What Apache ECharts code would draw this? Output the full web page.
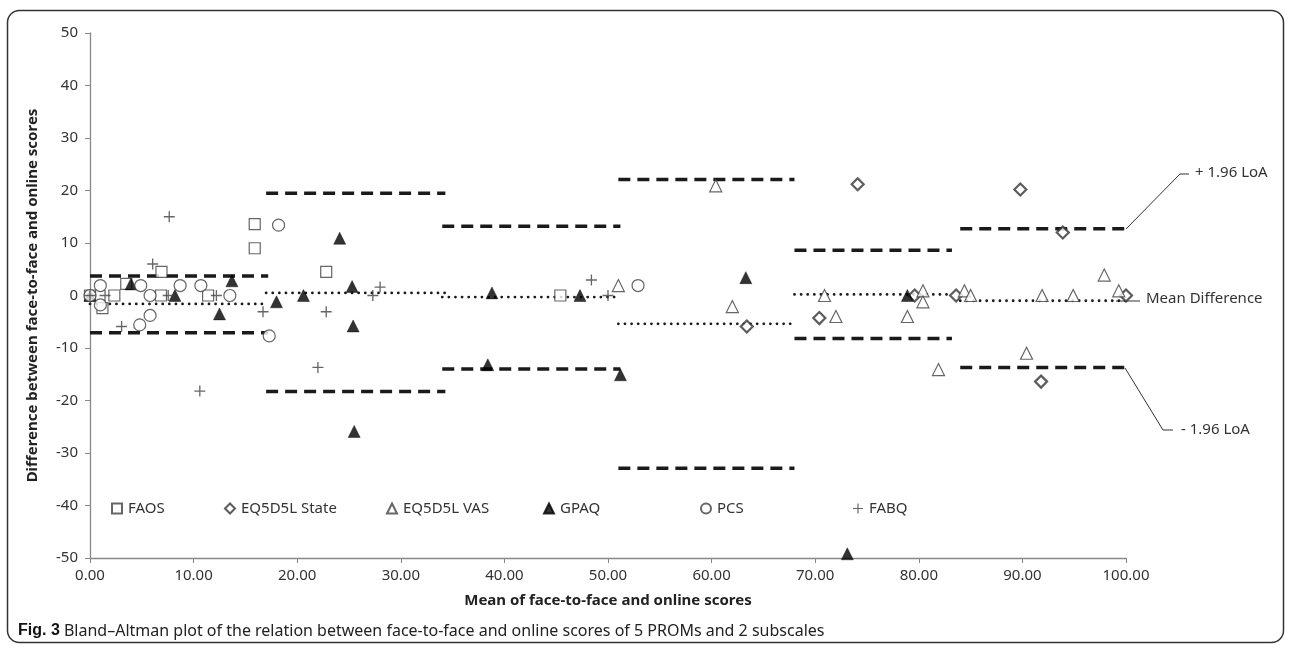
<!DOCTYPE html>
<html>
<head>
<meta charset="utf-8">
<script src="https://cdn.jsdelivr.net/npm/echarts@6/dist/echarts.min.js"></script>
<style>
  html, body { margin: 0; padding: 0; background: #fff; }
  #chart { width: 1292px; height: 651px; }
</style>
</head>
<body>
<div id="chart"></div>
<script>
// points [mean, difference] per instrument
var faos = [[0, 0], [1.2, -2.4], [2.35, 0], [3.5, 2.2], [6.9, 4.5], [6.85, 0], [11.4, 0], [15.9, 13.6], [15.9, 9.0], [22.8, 4.5], [45.4, 0]];
var eqState = [[63.4, -5.9], [70.4, -4.3], [74.1, 21.2], [79.6, 0], [83.6, 0], [89.8, 20.2], [93.9, 12.0], [91.8, -16.4], [100, 0]];
var eqVas = [[51.0, 1.9], [60.4, 20.9], [62.0, -2.1], [70.9, 0], [72.0, -4.0], [78.9, -4.0], [80.4, 0.9], [80.4, -1.2], [81.9, -14.1], [84.4, 0.9], [85.0, 0], [90.4, -11.0], [91.9, 0], [94.9, 0], [97.9, 3.9], [99.3, 0.9]];
var gpaq = [[0, 0], [3.96, 2.2], [8.2, 0], [12.5, -3.5], [13.7, 2.8], [18.0, -1.2], [20.6, 0], [24.1, 10.9], [25.3, 1.7], [25.4, -5.8], [25.5, -25.9], [38.4, -13.2], [38.8, 0.5], [47.3, 0], [51.2, -15.1], [63.3, 3.4], [73.1, -49.2], [78.9, 0]];
var pcs = [[0, 0], [1.0, 1.9], [1.0, -1.8], [4.9, 1.9], [4.8, -5.6], [5.8, 0], [5.8, -3.8], [8.7, 1.9], [10.7, 1.9], [13.5, 0], [17.3, -7.7], [18.2, 13.4], [52.9, 1.9]];
var fabq = [[0, 0], [1.45, 0], [3.05, -5.9], [6.05, 6.0], [7.65, 15.0], [7.55, 0], [10.6, -18.2], [12.2, 0], [16.7, -3.1], [22.0, -13.7], [22.8, -3.1], [27.3, 0], [28.0, 1.6], [48.4, 2.95], [50.0, 0]];

// limits of agreement per instrument block
var segStart = [0, 17, 34, 51, 68, 84];
var segEnd = [17.2, 34.3, 51.2, 68, 83.2, 100];
var upperLoA = [3.7, 19.5, 13.2, 22.1, 8.6, 12.7];
var meanDiff = [-1.6, 0.5, -0.3, -5.4, 0.2, -1.0];
var lowerLoA = [-7.1, -18.3, -14.0, -32.9, -8.2, -13.7];

var FONT = "'Noto Sans', 'Open Sans', sans-serif";
var plusPath = "path://M4.4,0H5.6V4.4H10V5.6H5.6V10H4.4V5.6H0V4.4H4.4Z";

var myChart = echarts.init(document.getElementById("chart"));

var series = [];
function addLine(vals, dashed) {
  for (var i = 0; i < vals.length; i++) {
    series.push({
      type: "line",
      silent: true,
      symbol: "none",
      z: 1,
      lineStyle: dashed
        ? { color: "#1a1a1a", width: 3.5, type: [12, 7] }
        : { color: "#1a1a1a", width: 2.8, type: [0.01, 6.6], cap: "round" },
      data: [[segStart[i], vals[i]], [segEnd[i], vals[i]]]
    });
  }
}
addLine(upperLoA, true);
addLine(lowerLoA, true);
addLine(meanDiff, false);

function scatter(name, data, symbol, size, style) {
  series.push({
    name: name,
    type: "scatter",
    symbol: symbol,
    symbolSize: size,
    z: 3,
    itemStyle: style,
    data: data
  });
}
scatter("FAOS", faos, "rect", 11, { color: "#fff", borderColor: "#404040", borderWidth: 1.2 });
scatter("EQ5D5L State", eqState, "diamond", 12, { color: "#fff", borderColor: "#333", borderWidth: 2.2 });
scatter("EQ5D5L VAS", eqVas, "triangle", 12, { color: "#fff", borderColor: "#404040", borderWidth: 1.2 });
scatter("GPAQ", gpaq, "triangle", 12, { color: "#000", borderColor: "#000", borderWidth: 0.5 });
scatter("PCS", pcs, "circle", 12, { color: "#fff", borderColor: "#404040", borderWidth: 1.2 });
scatter("FABQ", fabq, plusPath, 11, { color: "#404040" });

var legendNames = ["FAOS", "EQ5D5L State", "EQ5D5L VAS", "GPAQ", "PCS", "FABQ"];
var legendLeft = [106, 219, 381, 538, 695, 848];
var legends = legendNames.map(function (n, i) {
  return {
    data: [n],
    left: legendLeft[i],
    top: 496,
    itemWidth: 10,
    itemHeight: 10,
    itemGap: 0,
    selectedMode: false,
    textStyle: { fontFamily: FONT, fontSize: 15, color: "#333", padding: [0, 0, 0, 1] }
  };
});

var txt = { fontFamily: FONT, fontSize: 15, fill: "#333" };

var Option = {
  backgroundColor: "#fff",
  animation: false,
  grid: { left: 90, right: 166, top: 33, bottom: 93 },
  legend: legends,
  xAxis: {
    type: "value",
    min: 0,
    max: 100,
    interval: 10,
    name: "Mean of face-to-face and online scores",
    nameLocation: "middle",
    nameGap: 35,
    nameTextStyle: { fontFamily: FONT, fontSize: 15, fontWeight: "bold", color: "#222" },
    axisLine: { onZero: false, lineStyle: { color: "#888", width: 1.3 } },
    axisTick: { length: 5, lineStyle: { color: "#888" } },
    axisLabel: {
      margin: 10,
      fontFamily: FONT,
      fontSize: 15,
      color: "#333",
      formatter: function (v) { return v.toFixed(2); }
    },
    splitLine: { show: false }
  },
  yAxis: {
    type: "value",
    min: -50,
    max: 50,
    interval: 10,
    name: "Difference between face-to-face and online scores",
    nameLocation: "middle",
    nameGap: 50,
    nameTextStyle: { fontFamily: FONT, fontSize: 15, fontWeight: "bold", color: "#222" },
    axisLine: { show: true, lineStyle: { color: "#888", width: 1.3 } },
    axisTick: { show: true, length: 5, lineStyle: { color: "#888" } },
    axisLabel: { margin: 12, fontFamily: FONT, fontSize: 15, color: "#333" },
    splitLine: { show: false }
  },
  series: series,
  graphic: [
    {
      type: "rect", silent: true, z: 0,
      shape: { x: 7.5, y: 10.5, width: 1276, height: 632, r: 12 },
      style: { fill: "none", stroke: "#333", lineWidth: 1.5 }
    },
    // LoA annotations
    { type: "polyline", silent: true, shape: { points: [[1126, 229], [1180, 174], [1189, 174]] }, style: { stroke: "#333", lineWidth: 1, fill: null } },
    { type: "text", left: 1195, top: 165, silent: true, style: Object.assign({ text: "+ 1.96 LoA" }, txt) },
    { type: "line", silent: true, shape: { x1: 1116, y1: 301, x2: 1140, y2: 301 }, style: { stroke: "#333", lineWidth: 1 } },
    { type: "text", left: 1146, top: 291, silent: true, style: Object.assign({ text: "Mean Difference" }, txt) },
    { type: "polyline", silent: true, shape: { points: [[1125, 368], [1163, 430], [1173, 430]] }, style: { stroke: "#333", lineWidth: 1, fill: null } },
    { type: "text", left: 1181, top: 422, silent: true, style: Object.assign({ text: "- 1.96 LoA" }, txt) },
    // caption
    {
      type: "text", left: 18, top: 623, silent: true,
      style: {
        text: "{b|Fig. 3} Bland\u2013Altman plot of the relation between face-to-face and online scores of 5 PROMs and 2 subscales",
        font: "16px 'Liberation Sans Narrow', 'Noto Sans', sans-serif",
        fill: "#222",
        rich: { b: { fontWeight: "bold", fontSize: 16, fill: "#111" } }
      }
    }
  ]
};
myChart.setOption(Option);
</script>
</body>
</html>
